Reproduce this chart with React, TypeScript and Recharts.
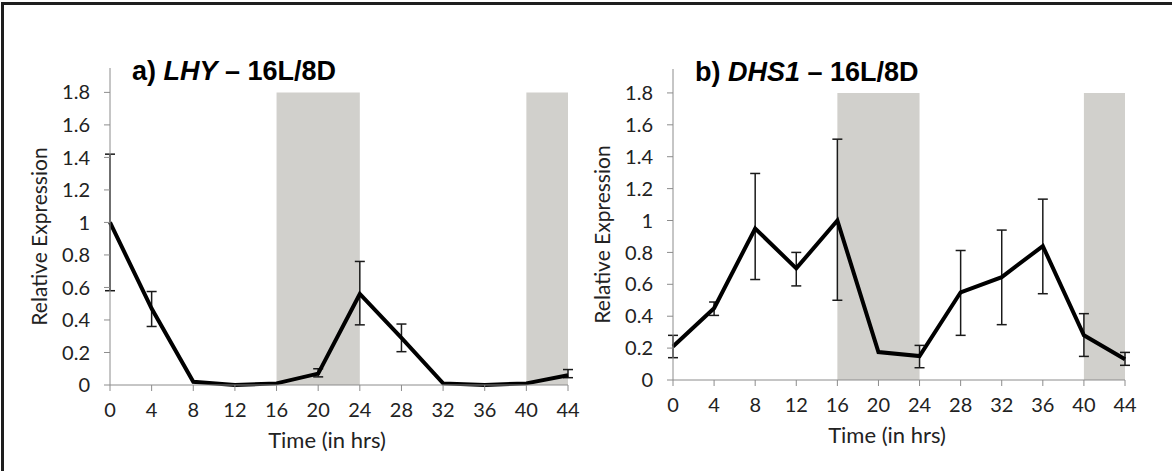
import { LineChart, Line, XAxis, YAxis, ReferenceArea, ErrorBar, Label } from 'recharts'

const hours = [0, 4, 8, 12, 16, 20, 24, 28, 32, 36, 40, 44]
const hourTicks = [0, 4, 8, 12, 16, 20, 24, 28, 32, 36, 40, 44]
const expressionTicks = [0, 0.2, 0.4, 0.6, 0.8, 1, 1.2, 1.4, 1.6, 1.8]
const darkPeriods = [
  [16, 24],
  [40, 44],
]

// a) LHY
const lhyMean = [1.0, 0.47, 0.02, 0.0, 0.01, 0.07, 0.56, 0.29, 0.01, 0.0, 0.01, 0.06]
const lhyLow = [0.58, 0.36, null, null, null, 0.05, 0.37, 0.205, null, null, null, 0.045]
const lhyHigh = [1.42, 0.575, null, null, null, 0.1, 0.76, 0.375, null, null, null, 0.095]

// b) DHS1
const dhsMean = [0.21, 0.45, 0.95, 0.7, 1.0, 0.175, 0.15, 0.55, 0.645, 0.84, 0.28, 0.13]
const dhsLow = [0.14, 0.405, 0.63, 0.59, 0.5, null, 0.077, 0.28, 0.347, 0.541, 0.148, 0.092]
const dhsHigh = [0.28, 0.489, 1.295, 0.8, 1.51, null, 0.217, 0.812, 0.94, 1.134, 0.416, 0.173]

type Bound = number | null

function buildRows(mean: number[], low: Bound[], high: Bound[]) {
  return hours.map((h, i) => {
    const lo = low[i]
    const hi = high[i]
    return {
      hour: h,
      value: mean[i],
      err: lo == null || hi == null ? null : [mean[i] - lo, hi - mean[i]],
    }
  })
}

const tickStyle = { fill: '#222', fontSize: 20, fontFamily: 'Lato' }
const axisGrey = '#8c8c8c'

function Panel({ rows, tag, gene, left, width, margin }: any) {
  return (
    <div style={{ position: 'absolute', left, top: 0 }}>
      <LineChart width={width} height={471} data={rows} margin={margin}>
        {darkPeriods.map(([a, b]) => (
          <ReferenceArea key={a} x1={a} x2={b} y1={0} y2={1.8} fill="#d1d0cc" fillOpacity={1} stroke="none" />
        ))}
        <XAxis
          type="number"
          dataKey="hour"
          domain={[0, 44]}
          ticks={hourTicks}
          interval={0}
          stroke={axisGrey}
          tickSize={6}
          tickMargin={12}
          height={30}
          tick={tickStyle}
        >
          <Label
            content={(p: any) => {
              const vb = p.viewBox
              return (
                <text
                  x={vb.x + vb.width / 2 - 12}
                  y={vb.y + 63}
                  textAnchor="middle"
                  fontFamily="Lato"
                  fontSize={22}
                  fill="#222"
                >
                  Time (in hrs)
                </text>
              )
            }}
          />
        </XAxis>
        <YAxis
          type="number"
          domain={[0, 1.95]}
          ticks={expressionTicks}
          interval={0}
          stroke={axisGrey}
          tickSize={6}
          tickMargin={14}
          width={60}
          tick={tickStyle}
        >
          <Label
            content={(p: any) => {
              const vb = p.viewBox
              const cx = vb.x + vb.width - 72
              const cy = vb.y + vb.height / 2 + 10
              return (
                <text
                  x={cx}
                  y={cy}
                  transform={`rotate(-90, ${cx}, ${cy})`}
                  textAnchor="middle"
                  dominantBaseline="central"
                  fontFamily="Lato"
                  fontSize={21}
                  fill="#222"
                >
                  Relative Expression
                </text>
              )
            }}
          />
          <Label
            content={(p: any) => {
              const vb = p.viewBox
              return (
                <text
                  x={vb.x + vb.width + 22}
                  y={vb.y + 12}
                  fontFamily="'Liberation Sans', Arial"
                  fontWeight="bold"
                  fontSize={27}
                  fill="#000"
                >
                  <tspan>{tag + ' '}</tspan>
                  <tspan fontStyle="italic">{gene}</tspan>
                  <tspan>{' – 16L/8D'}</tspan>
                </text>
              )
            }}
          />
        </YAxis>
        <Line type="linear" dataKey="value" stroke="#000" strokeWidth={4} dot={false} isAnimationActive={false}>
          <ErrorBar dataKey="err" direction="y" width={5} stroke="#1a1a1a" strokeWidth={1.5} isAnimationActive={false} />
        </Line>
      </LineChart>
    </div>
  )
}

export default function App() {
  const lhyRows = buildRows(lhyMean, lhyLow, lhyHigh)
  const dhsRows = buildRows(dhsMean, dhsLow, dhsHigh)
  return (
    <div style={{ position: 'absolute', left: 0, top: 0, width: 1172, height: 471, background: '#fff', overflow: 'hidden' }}>
      <Panel rows={lhyRows} tag="a)" gene="LHY" left={0} width={580} margin={{ top: 68, right: 12, bottom: 56, left: 50 }} />
      <Panel rows={dhsRows} tag="b)" gene="DHS1" left={580} width={592} margin={{ top: 69, right: 47, bottom: 61, left: 33 }} />
      <div
        style={{
          position: 'absolute',
          left: 1,
          top: 2,
          width: 1171,
          height: 469,
          borderTop: '3px solid #1e1e1e',
          borderLeft: '3px solid #1e1e1e',
          boxSizing: 'border-box',
          pointerEvents: 'none',
        }}
      />
    </div>
  )
}
